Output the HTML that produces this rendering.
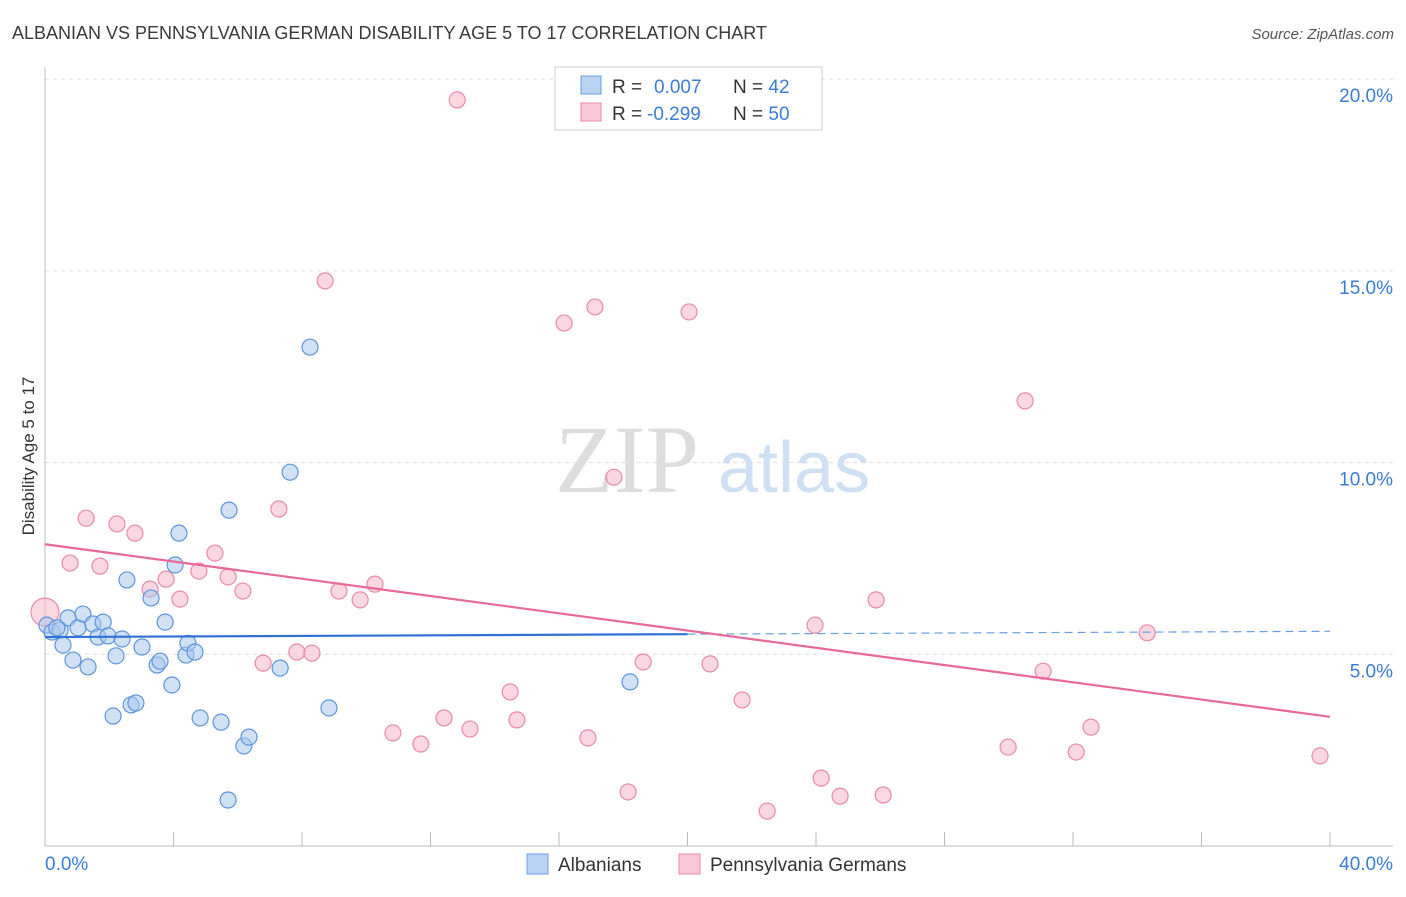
<!DOCTYPE html>
<html><head><meta charset="utf-8"><style>
body{margin:0;background:#fff;font-family:"Liberation Sans",sans-serif}
</style></head><body>
<svg width="1406" height="892" xmlns="http://www.w3.org/2000/svg">
<text x="12" y="39" font-size="18" fill="#3a3a3a">ALBANIAN VS PENNSYLVANIA GERMAN DISABILITY AGE 5 TO 17 CORRELATION CHART</text>
<text x="1394" y="39" font-size="15" fill="#555" font-style="italic" text-anchor="end">Source: ZipAtlas.com</text>
<g id="grid"></g>
<text x="555" y="492" font-size="96" fill="#ddd" font-family="Liberation Serif">ZIP</text>
<text x="718" y="492" font-size="72" fill="#cfe0f4">atlas</text>
<g id="axes"></g>
<g id="marks"></g>
<text transform="translate(34,456) rotate(-90)" font-size="17" fill="#333" text-anchor="middle">Disability Age 5 to 17</text>
<g>
<rect x="555" y="67" width="267" height="63" fill="#fff" stroke="#ccc"/>
<rect x="581" y="76" width="20" height="18" fill="#b9d3f3" stroke="#6a9fe0"/>
<rect x="581" y="103" width="20" height="18" fill="#f9c6d6" stroke="#e98aaa"/>
<text x="612" y="93" font-size="19" fill="#333">R = <tspan x="654" fill="#3b7dd8">0.007</tspan><tspan x="733">N = </tspan><tspan fill="#3b7dd8">42</tspan></text>
<text x="612" y="120" font-size="19" fill="#333">R = <tspan x="647" fill="#3b7dd8">-0.299</tspan><tspan x="733">N = </tspan><tspan fill="#3b7dd8">50</tspan></text>
</g>
<g>
<rect x="527" y="854" width="21" height="20" fill="#b9d3f3" stroke="#6a9fe0"/>
<text x="558" y="871" font-size="19" fill="#333">Albanians</text>
<rect x="679" y="854" width="21" height="20" fill="#f9c6d6" stroke="#e98aaa"/>
<text x="710" y="871" font-size="19" fill="#333">Pennsylvania Germans</text>
</g>
</svg>
<script>
const blueX=[0.06,0.22,0.47,0.56,0.72,0.87,1.03,1.18,1.34,1.49,1.65,1.81,1.96,2.12,2.21,2.40,2.55,2.68,2.83,3.02,3.30,3.49,3.58,3.74,3.95,4.05,4.17,4.39,4.45,4.67,4.83,5.48,5.73,5.70,6.19,6.35,7.32,7.63,8.25,8.84,18.21,0.37];
const blueY=[5.76,5.58,5.63,5.24,5.95,4.85,5.69,6.05,4.67,5.79,5.45,5.84,5.48,3.39,4.96,5.40,6.94,3.68,3.73,5.19,6.47,4.72,4.82,5.84,4.20,7.33,8.16,4.98,5.29,5.06,3.34,3.23,8.76,1.20,2.61,2.84,4.64,9.75,13.01,3.60,4.28,5.69];
const pinkX=[0,0.78,1.28,1.71,2.24,2.80,3.27,3.77,4.20,4.79,5.29,5.70,6.16,6.79,7.28,7.84,8.31,8.72,9.15,9.81,10.27,10.83,11.70,12.42,12.83,13.23,14.48,14.69,16.16,16.90,17.12,17.71,18.15,18.62,20.05,20.70,21.70,22.48,24.16,23.97,24.75,25.87,26.09,29.98,30.51,31.07,32.10,32.56,34.31,39.69];
const pinkY=[6.10,7.38,8.55,7.30,8.40,8.16,6.70,6.96,6.44,7.17,7.64,7.02,6.65,4.77,8.79,5.06,5.03,14.74,6.65,6.42,6.83,2.95,2.66,3.34,19.46,3.05,4.02,3.29,13.64,2.82,14.06,9.62,1.41,4.80,13.93,4.75,3.81,0.91,1.77,5.76,1.30,6.42,1.33,2.58,11.61,4.56,2.45,3.10,5.56,2.35];
const blueTrend=[5.45,5.60];
const pinkTrend=[7.87,3.37];
const yTicks=[5,10,15,20];
const yTickLabels=["5.0%","10.0%","15.0%","20.0%"];
const xTickLabels=["0.0%","40.0%"];
const NS="http://www.w3.org/2000/svg";
const X=v=>45+v/40*1285, Y=v=>846-v*38.34;
function mk(t,a,p){const e=document.createElementNS(NS,t);for(const k in a)e.setAttribute(k,a[k]);p.appendChild(e);return e;}
const grid=document.getElementById('grid'),axes=document.getElementById('axes'),marks=document.getElementById('marks');
yTicks.forEach((t,i)=>{
 const l=mk('line',{x1:45,x2:1393,y1:Y(t),y2:Y(t),stroke:'#ddd','stroke-dasharray':'4,4'},grid);
 
 
 const tx=mk('text',{x:1393,y:Y(t)+23,'font-size':19,fill:'#3b7dd8','text-anchor':'end'},axes);
 tx.textContent=yTickLabels[i];
 
 
});
let a=mk('line',{x1:45,x2:45,y1:67,y2:846,stroke:'#bbb'},axes);


a=mk('line',{x1:45,x2:1393,y1:846,y2:846,stroke:'#bbb'},axes);


for(let i=0;i<=10;i++){
 const t=mk('line',{x1:X(i*4),x2:X(i*4),y1:832,y2:846,stroke:'#bbb'},axes);
 
 
}
[[0,45,'start'],[40,1393,'end']].forEach((d,i)=>{
 const t=mk('text',{x:d[1],y:870,'font-size':19,fill:'#3b7dd8','text-anchor':d[2]},axes);
 t.textContent=xTickLabels[i];
 
 
});
function pts(xs,ys,fill,stroke,name){
 xs.forEach((x,i)=>{
  const c=mk('circle',{cx:X(x),cy:Y(ys[i]),r:(x===0?14:8),fill:fill,'fill-opacity':0.55,stroke:stroke,'stroke-width':1.2},marks);
  
  
 });
}
pts(pinkX,pinkY,'#f7b6cb','#e98aaa','pa-german-point');
pts(blueX,blueY,'#a9c8ef','#5d95dc','albanian-point');
let bm=blueTrend[0]+(blueTrend[1]-blueTrend[0])*0.5;
let l=mk('line',{x1:X(0),y1:Y(blueTrend[0]),x2:X(20),y2:Y(bm),stroke:'#2f72d3','stroke-width':2.2},marks);


l=mk('line',{x1:X(20),y1:Y(bm),x2:X(40),y2:Y(blueTrend[1]),stroke:'#6a9fe0','stroke-width':1.2,'stroke-dasharray':'8,5'},marks);


l=mk('line',{x1:X(0),y1:Y(pinkTrend[0]),x2:X(40),y2:Y(pinkTrend[1]),stroke:'#e8689a','stroke-width':2.2},marks);


</script>
</body></html>
